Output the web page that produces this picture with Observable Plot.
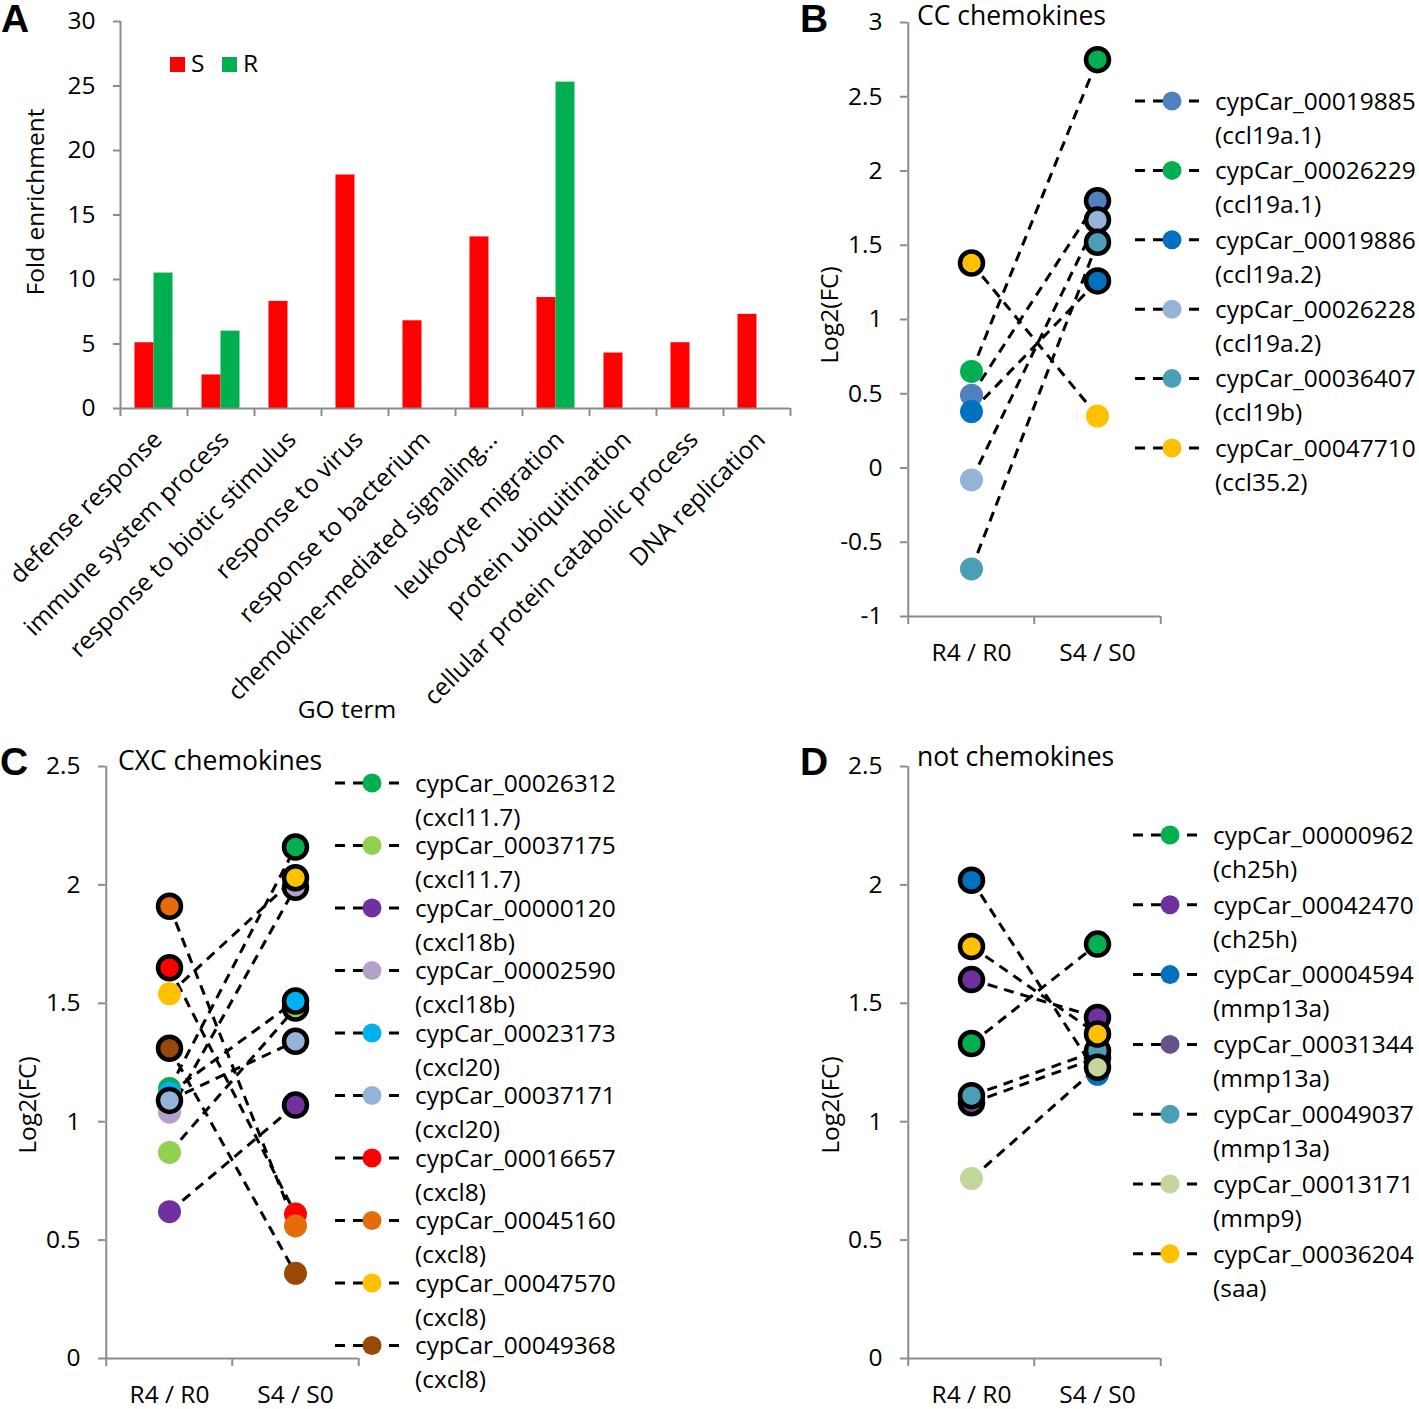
<!DOCTYPE html>
<html>
<head>
<meta charset="utf-8">
<script src="https://cdn.jsdelivr.net/npm/d3@7"></script>
<script src="https://cdn.jsdelivr.net/npm/@observablehq/plot@0.6"></script>
<style>
  body { margin: 0; background: #fff; }
  #root { position: relative; width: 1419px; height: 1409px; background: #fff; overflow: hidden; }
  .panel { position: absolute; }
</style>
</head>
<body>
<div id="root"></div>
<script>
// ---------------- Panel A data ----------------
const goTerms = ["defense response", "immune system process", "response to biotic stimulus", "response to virus",
  "response to bacterium", "chemokine-mediated signaling...", "leukocyte migration", "protein ubiquitination",
  "cellular protein catabolic process", "DNA replication"];
const sEnrichment = [5.1, 2.6, 8.3, 18.1, 6.8, 13.3, 8.6, 4.3, 5.1, 7.3];
const rEnrichment = [10.5, 6.0, null, null, null, null, 25.3, null, null, null];
const enrichTicks = [0, 5, 10, 15, 20, 25, 30];
const seriesNames = ["S", "R"];
const seriesColors = ["#FF0000", "#00B050"];

// ---------------- Shared ----------------
const conditions = ["R4 / R0", "S4 / S0"];

// ---------------- Panel B: CC chemokines ----------------
const ccGenes = ["cypCar_00019885", "cypCar_00026229", "cypCar_00019886", "cypCar_00026228", "cypCar_00036407", "cypCar_00047710"];
const ccAliases = ["ccl19a.1", "ccl19a.1", "ccl19a.2", "ccl19a.2", "ccl19b", "ccl35.2"];
const ccColors = ["#4F81BD", "#00B050", "#0070C0", "#95B3D7", "#4A9EB5", "#FFC000"];
const ccR = [0.49, 0.65, 0.38, -0.08, -0.68, 1.38];
const ccS = [1.80, 2.75, 1.26, 1.67, 1.52, 0.35];
const ccRSig = [false, false, false, false, false, true];
const ccSSig = [true, true, true, true, true, false];
const ccTicks = [-1, -0.5, 0, 0.5, 1, 1.5, 2, 2.5, 3];

// ---------------- Panel C: CXC chemokines ----------------
const cxcGenes = ["cypCar_00026312", "cypCar_00037175", "cypCar_00000120", "cypCar_00002590", "cypCar_00023173",
  "cypCar_00037171", "cypCar_00016657", "cypCar_00045160", "cypCar_00047570", "cypCar_00049368"];
const cxcAliases = ["cxcl11.7", "cxcl11.7", "cxcl18b", "cxcl18b", "cxcl20", "cxcl20", "cxcl8", "cxcl8", "cxcl8", "cxcl8"];
const cxcColors = ["#00B050", "#92D050", "#7030A0", "#B3A2C7", "#00B0F0", "#95B3D7", "#FF0000", "#E46C0A", "#FFC000", "#984807"];
const cxcR = [1.14, 0.87, 0.62, 1.04, 1.12, 1.09, 1.65, 1.91, 1.54, 1.31];
const cxcS = [2.16, 1.48, 1.07, 1.99, 1.51, 1.34, 0.61, 0.56, 2.03, 0.36];
const cxcRSig = [false, false, false, false, false, true, true, true, false, true];
const cxcSSig = [true, true, true, true, true, true, false, false, true, false];
const lowTicks = [0, 0.5, 1, 1.5, 2, 2.5];

// ---------------- Panel D: not chemokines ----------------
const otherGenes = ["cypCar_00000962", "cypCar_00042470", "cypCar_00004594", "cypCar_00031344", "cypCar_00049037", "cypCar_00013171", "cypCar_00036204"];
const otherAliases = ["ch25h", "ch25h", "mmp13a", "mmp13a", "mmp13a", "mmp9", "saa"];
const otherColors = ["#00B050", "#7030A0", "#0070C0", "#67518A", "#4A9EB5", "#C3D69B", "#FFC000"];
const otherR = [1.33, 1.60, 2.02, 1.08, 1.11, 0.76, 1.74];
const otherS = [1.75, 1.44, 1.20, 1.27, 1.30, 1.23, 1.37];
const otherRSig = [true, true, true, true, true, false, true];
const otherSSig = [true, true, false, true, true, true, true];

// ---------------- Rendering ----------------
const FONT = "'Open Sans', sans-serif";
const FS = 24.5;
const GRAY = "#8c8c8c";
const root = document.getElementById("root");

function place(svg, left, top, width) {
  const div = document.createElement("div");
  div.className = "panel";
  div.style.left = left + "px";
  div.style.top = top + "px";
  div.style.width = width + "px";
  div.appendChild(svg);
  root.appendChild(div);
}

// Panel A
(function () {
  const width = 800, height = 730, mL = 120, mR = 10, mT = 21, mB = 322;
  const step = (width - mL - mR) / goTerms.length;
  const pInner = 0.716;
  const bw = step * (1 - pInner);
  const dataS = goTerms.map((t, i) => ({term: t, value: sEnrichment[i]}));
  const dataR = goTerms.map((t, i) => ({term: t, value: rEnrichment[i]})).filter(d => d.value != null);
  const svg = Plot.plot({
    width, height, marginLeft: mL, marginRight: mR, marginTop: mT, marginBottom: mB,
    style: {fontFamily: FONT, fontSize: FS + "px", color: "black", background: "transparent", overflow: "visible"},
    x: {type: "band", domain: goTerms, paddingInner: pInner, paddingOuter: pInner / 2},
    y: {domain: [0, 30]},
    marks: [
      Plot.barY(dataS, {x: "term", y: "value", fill: seriesColors[0], dx: -bw / 2}),
      Plot.barY(dataR, {x: "term", y: "value", fill: seriesColors[1], dx: bw / 2}),
      Plot.ruleY([0], {stroke: GRAY, strokeWidth: 2}),
      Plot.ruleX([goTerms[0]], {dx: -step / 2, stroke: GRAY, strokeWidth: 2}),
      Plot.axisY({ticks: enrichTicks, tickSize: 7, tickPadding: 18, stroke: GRAY, strokeWidth: 2, fill: "black", tickFormat: d => String(d), label: null}),
      Plot.axisX({ticks: goTerms, tickSize: 8, dx: -step / 2, tickFormat: () => "", stroke: GRAY, strokeWidth: 2, label: null}),
      Plot.axisX({ticks: [goTerms[goTerms.length - 1]], tickSize: 8, dx: step / 2, tickFormat: () => "", stroke: GRAY, strokeWidth: 2, label: null}),
      Plot.axisX({ticks: goTerms, tickSize: 0, tickPadding: 27, tickRotate: -45, dx: 4, fill: "black", label: null})
    ]
  });
  place(svg, 0, 0, width);
})();

function dotPanel(cfg) {
  const rows = cfg.genes.map((g, i) => ({gene: g, r: cfg.r[i], s: cfg.s[i]}));
  const pts = [];
  cfg.genes.forEach((g, i) => {
    pts.push({gene: g, color: cfg.colors[i], cond: conditions[0], v: cfg.r[i], sig: cfg.rSig[i]});
    pts.push({gene: g, color: cfg.colors[i], cond: conditions[1], v: cfg.s[i], sig: cfg.sSig[i]});
  });
  const half = (cfg.width - cfg.mL - cfg.mR) / 4;
  const svg = Plot.plot({
    width: cfg.width, height: cfg.height,
    marginLeft: cfg.mL, marginRight: cfg.mR, marginTop: cfg.mT, marginBottom: cfg.mB,
    style: {fontFamily: FONT, fontSize: FS + "px", color: "black", background: "transparent", overflow: "visible"},
    x: {type: "point", domain: conditions, padding: 0.5},
    y: {domain: cfg.yDomain},
    color: {type: "identity"},
    marks: [
      Plot.ruleY([cfg.yDomain[0]], {stroke: GRAY, strokeWidth: 2}),
      Plot.ruleX([conditions[0]], {dx: -half, stroke: GRAY, strokeWidth: 2}),
      Plot.axisY({ticks: cfg.ticks, tickSize: 7, tickPadding: 18, stroke: GRAY, strokeWidth: 2, fill: "black", tickFormat: d => String(d), label: null}),
      Plot.axisX({ticks: conditions, tickSize: 8, dx: -half, tickFormat: () => "", stroke: GRAY, strokeWidth: 2, label: null}),
      Plot.axisX({ticks: [conditions[1]], tickSize: 8, dx: half, tickFormat: () => "", stroke: GRAY, strokeWidth: 2, label: null}),
      Plot.axisX({ticks: conditions, tickSize: 0, tickPadding: 27, fill: "black", label: null}),
      Plot.link(rows, {x1: () => conditions[0], x2: () => conditions[1], y1: "r", y2: "s",
        stroke: "black", strokeWidth: 3, strokeDasharray: "10,7"}),
      Plot.dot(pts, {x: "cond", y: "v", r: 11.5, fill: "color", stroke: d => d.sig ? "black" : "none", strokeWidth: 4.5})
    ]
  });
  place(svg, cfg.left, cfg.top, cfg.width);
}

dotPanel({genes: ccGenes, colors: ccColors, r: ccR, s: ccS, rSig: ccRSig, sSig: ccSSig,
  yDomain: [-1, 3], ticks: ccTicks, left: 820, top: 0, width: 350, height: 680, mL: 87, mR: 10, mT: 22, mB: 64});
dotPanel({genes: cxcGenes, colors: cxcColors, r: cxcR, s: cxcS, rSig: cxcRSig, sSig: cxcSSig,
  yDomain: [0, 2.5], ticks: lowTicks, left: 0, top: 740, width: 370, height: 669, mL: 105, mR: 12, mT: 26, mB: 51});
dotPanel({genes: otherGenes, colors: otherColors, r: otherR, s: otherS, rSig: otherRSig, sSig: otherSSig,
  yDomain: [0, 2.5], ticks: lowTicks, left: 820, top: 740, width: 350, height: 669, mL: 87, mR: 10, mT: 26, mB: 51});

// ---------------- Overlay: titles, labels, legends ----------------
const overlay = d3.select("#root").append("svg")
  .attr("width", 1419).attr("height", 1409)
  .style("position", "absolute").style("left", 0).style("top", 0)
  .style("font-family", FONT).style("pointer-events", "none");

function txt(x, y, s, opts = {}) {
  const t = overlay.append("text").attr("x", x).attr("y", y).attr("font-size", opts.size || FS)
    .attr("fill", "black").text(s);
  if (opts.anchor) t.attr("text-anchor", opts.anchor);
  if (opts.weight) t.attr("font-weight", opts.weight);
  if (opts.family) t.attr("font-family", opts.family);
  if (opts.rotate) t.attr("transform", `rotate(${opts.rotate},${x},${y})`);
  return t;
}

// panel letters
const letterFont = "'Liberation Sans', Arial, sans-serif";
txt(1, 32, "A", {size: 39, weight: "bold", family: letterFont});
txt(800, 32, "B", {size: 39, weight: "bold", family: letterFont});
txt(0, 775, "C", {size: 39, weight: "bold", family: letterFont});
txt(800, 775, "D", {size: 39, weight: "bold", family: letterFont});

// panel titles
txt(917, 25, "CC chemokines", {size: 26.5});
txt(118, 770, "CXC chemokines", {size: 26.5});
txt(917, 766, "not chemokines", {size: 26.5});

// axis titles
txt(44, 202, "Fold enrichment", {anchor: "middle", rotate: -90});
txt(347, 718, "GO term", {anchor: "middle"});
txt(838, 315, "Log2(FC)", {anchor: "middle", rotate: -90});
txt(36, 1105, "Log2(FC)", {anchor: "middle", rotate: -90});
txt(839, 1105, "Log2(FC)", {anchor: "middle", rotate: -90});

// Panel A legend
seriesNames.forEach((name, i) => {
  const x0 = 170 + i * 52;
  overlay.append("rect").attr("x", x0).attr("y", 57).attr("width", 15).attr("height", 15).attr("fill", seriesColors[i]);
  txt(x0 + 21, 72, name);
});

function legend(x0, y0, step, genes, aliases, colors) {
  genes.forEach((gene, i) => {
    const y = y0 + i * step;
    overlay.append("line").attr("x1", x0).attr("x2", x0 + 72).attr("y1", y).attr("y2", y)
      .attr("stroke", "black").attr("stroke-width", 3).attr("stroke-dasharray", "10,8");
    overlay.append("circle").attr("cx", x0 + 37).attr("cy", y).attr("r", 9.5).attr("fill", colors[i]);
    txt(x0 + 80, y, gene).attr("dy", "0.36em");
    txt(x0 + 80, y + 34, `(${aliases[i]})`).attr("dy", "0.36em");
  });
}
legend(1135, 101, 69.4, ccGenes, ccAliases, ccColors);
legend(335, 783, 62.5, cxcGenes, cxcAliases, cxcColors);
legend(1133, 835, 69.8, otherGenes, otherAliases, otherColors);
</script>
</body>
</html>
